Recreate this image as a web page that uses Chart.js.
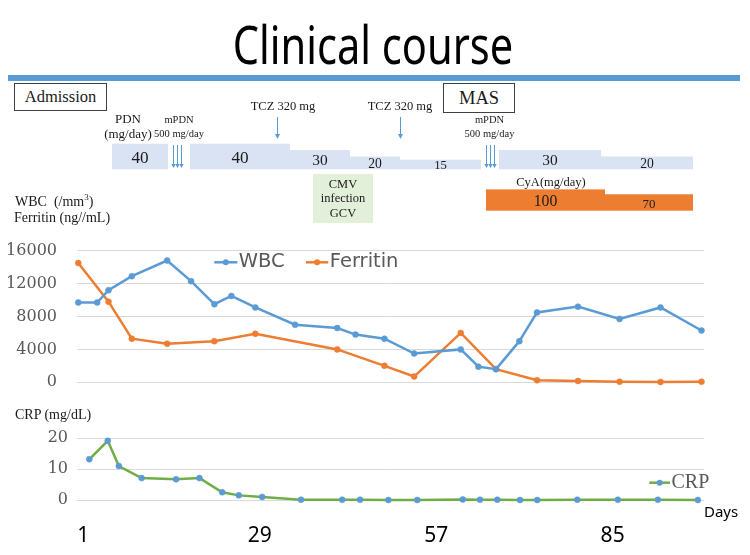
<!DOCTYPE html>
<html>
<head>
<meta charset="utf-8">
<script src="https://cdn.jsdelivr.net/npm/chart.js@4.4.1/dist/chart.umd.min.js"></script>
<style>
body{margin:0;background:#fff;}
#wrap{position:relative;width:750px;height:555px;overflow:hidden;background:#fff;}
canvas{position:absolute;left:0;}
.t{position:absolute;line-height:1;white-space:nowrap;font-family:'Liberation Serif',serif;color:#1a1a1a;z-index:2;}
.c{text-align:center;}
.box{position:absolute;box-sizing:border-box;border:1px solid #404040;display:flex;align-items:center;justify-content:center;font-family:'Liberation Serif',serif;color:#1a1a1a;background:#fff;z-index:2;}
sup{font-size:9px;line-height:0;vertical-align:6px;}
</style>
</head>
<body>
<div id="wrap">
  <div class="t c" style="left:0;width:746px;top:18.3px;font-family:'Noto Sans',sans-serif;font-size:52px;color:#000;transform:scaleX(0.8);transform-origin:373px 0;">Clinical course</div>
  <div style="position:absolute;left:8px;top:75px;width:732px;height:5.5px;background:#5b9bd5;"></div>

  <div class="box" style="left:14px;top:83px;width:93px;height:28px;font-size:16.5px;">Admission</div>
  <div class="box" style="left:443px;top:83px;width:72px;height:30px;font-size:18.5px;">MAS</div>

  <div class="t c" style="left:88px;width:80px;top:111.4px;font-size:13px;line-height:15px;">PDN<br>(mg/day)</div>
  <div class="t c" style="left:129px;width:100px;top:112.8px;font-size:10.5px;line-height:14px;">mPDN<br>500 mg/day</div>
  <div class="t c" style="left:439.5px;width:100px;top:112.8px;font-size:10.5px;line-height:14px;">mPDN<br>500 mg/day</div>
  <div class="t c" style="left:233px;width:100px;top:99.5px;font-size:12.5px;">TCZ 320 mg</div>
  <div class="t c" style="left:350px;width:100px;top:99.5px;font-size:12.5px;">TCZ 320 mg</div>
  <div class="t c" style="left:313px;width:60px;top:176.6px;font-size:12.5px;line-height:14.6px;">CMV<br>infection<br>GCV</div>
  <div class="t c" style="left:491px;width:120px;top:176.1px;font-size:12.5px;">CyA(mg/day)</div>

  <div class="t" style="left:15px;top:195px;font-size:14px;">WBC&nbsp;&nbsp;(/mm<sup>3</sup>)</div>
  <div class="t" style="left:14px;top:211.1px;font-size:14px;">Ferritin (ng//mL)</div>
  <div class="t" style="left:15px;top:408.3px;font-size:14px;">CRP (mg/dL)</div>
  <div class="t" style="left:704px;top:504.1px;font-size:15px;font-family:'Noto Sans',sans-serif;color:#000;">Days</div>

  <canvas id="upper" width="750" height="400" style="top:0;"></canvas>
  <canvas id="lower" width="750" height="155" style="top:400px;"></canvas>
</div>
<script>
// days of each sample (x)
const days = [0.2, 3.2, 5, 8.7, 14.3, 18.1, 21.8, 24.5, 28.3, 34.6, 41.3, 44.2, 48.8, 53.5, 60.9, 63.7, 66.5, 70.2, 73, 79.5, 86.1, 92.6, 99.1];
const wbc = [9700, 9700, 11200, 12900, 14800, 12300, 9500, 10500, 9100, 7000, 6600, 5800, 5300, 3500, 4000, 1900, 1600, 5000, 8500, 9200, 7700, 9100, 6300];
const ferritin = [14500, null, 9800, 5300, 4700, null, 5000, null, 5900, null, 4000, null, 2000, 700, 6000, null, 1600, null, 250, 160, 80, 40, 80];
const crp = [13.2, 19.2, 11, 7.1, 6.7, 7.1, 2.5, 1.5, 1, 0.1, 0.1, 0.1, 0, 0, 0.2, 0.1, 0.1, 0, 0, 0.1, 0.1, 0.1, 0];
const dayTicks = [1, 29, 57, 85];

// treatment timeline (days)
const pdnFrom = [5.5, 17.9, 33.8, 43.3, 51.3, 66.9, 83.1];
const pdnTo = [14.4, 33.8, 43.3, 51.3, 64.1, 83.1, 97.8];
const pdnDose = [40, 40, 30, 20, 15, 30, 20];
const cyaFrom = [64.9, 83.8];
const cyaTo = [83.8, 97.8];
const cyaDose = [100, 70];
const mpdnDays = [15.3, 15.9, 16.55, 64.9, 65.55, 66.2];
const tczDays = [31.8, 51.3];
const cmvPeriod = [37.45, 47];

const BLUE = '#5b9bd5', ORANGE = '#ed7d31', GREEN = '#70ad47', GRID = '#d9d9d9', TICK = '#595959';

function arrow(ctx, x, y1, y2, hw, hh) {
  x = Math.round(x) + 0.5;
  ctx.beginPath(); ctx.moveTo(x, y1); ctx.lineTo(x, y2 - hh); ctx.stroke();
  ctx.beginPath(); ctx.moveTo(x - hw / 2, y2 - hh); ctx.lineTo(x + hw / 2, y2 - hh); ctx.lineTo(x, y2); ctx.closePath(); ctx.fill();
}

function doseLabel(ctx, v, cx, cy, size) {
  ctx.fillStyle = '#1a1a1a';
  ctx.font = size.toFixed(1) + 'px "Liberation Serif"';
  ctx.textAlign = 'center'; ctx.textBaseline = 'middle';
  ctx.fillText(String(v), cx, cy);
}

const timeline = {
  id: 'timeline',
  afterDraw(chart) {
    const ctx = chart.ctx, sx = chart.scales.x;
    const px = d => Math.round(sx.getPixelForValue(d));
    ctx.save();
    // CMV infection period
    ctx.fillStyle = '#e2f0d9';
    ctx.fillRect(px(cmvPeriod[0]), 174, px(cmvPeriod[1]) - px(cmvPeriod[0]), 49);
    // PDN steps
    pdnDose.forEach((d, i) => {
      const l = px(pdnFrom[i]), r = px(pdnTo[i]), h = d * 0.64, b = 169.3;
      ctx.fillStyle = '#dae3f3';
      ctx.fillRect(l, b - h, r - l, h);
      doseLabel(ctx, d, (l + r) / 2, b - h / 2 + 1.5, 10 + h * 0.28);
    });
    // CyA steps
    cyaDose.forEach((d, i) => {
      const l = px(cyaFrom[i]), r = px(cyaTo[i]), h = 5 + d * 0.163, b = 210.7;
      ctx.fillStyle = ORANGE;
      ctx.fillRect(l, b - h, r - l, h);
      doseLabel(ctx, d, (l + r) / 2, b - h / 2 + 2, 4 + h * 0.55);
    });
    // arrows
    ctx.strokeStyle = BLUE; ctx.fillStyle = BLUE; ctx.lineWidth = 1;
    tczDays.forEach(d => arrow(ctx, sx.getPixelForValue(d), 117, 139, 5, 5));
    mpdnDays.forEach(d => arrow(ctx, sx.getPixelForValue(d), 145, 168, 4.4, 4));
    ctx.restore();
  }
};

const seriesKey = {
  id: 'seriesKey',
  afterDraw(chart, args, opts) {
    const ctx = chart.ctx;
    ctx.save();
    opts.items.forEach(it => {
      const ds = chart.data.datasets[it.index];
      ctx.strokeStyle = ds.borderColor; ctx.lineWidth = 2.5;
      ctx.beginPath(); ctx.moveTo(it.x, opts.y); ctx.lineTo(it.x + it.w, opts.y); ctx.stroke();
      ctx.fillStyle = ds.pointBackgroundColor;
      ctx.beginPath(); ctx.arc(it.x + it.w / 2, opts.y, 3, 0, Math.PI * 2); ctx.fill();
      ctx.fillStyle = TICK; ctx.font = opts.font; ctx.textAlign = 'left'; ctx.textBaseline = 'middle';
      ctx.fillText(ds.label, it.x + it.w + 1.5, opts.y);
    });
    ctx.restore();
  }
};

// label gap made with an invisible tick mark, so it does not add to the layout padding
const yTicks = size => ({color: TICK, font: {family: 'DejaVu Serif', size: size}, padding: 0, callback: v => String(v)});
const yGrid = gap => ({color: GRID, drawTicks: true, tickLength: gap, tickColor: 'rgba(0,0,0,0)'});

new Chart(document.getElementById('upper'), {
  type: 'line',
  data: {datasets: [
    {label: 'WBC', data: days.map((d, i) => ({x: d, y: wbc[i]})), borderColor: BLUE, pointBackgroundColor: BLUE, pointBorderColor: BLUE,
     borderWidth: 2.5, pointRadius: 3, pointBorderWidth: 0.5, tension: 0, clip: false},
    {label: 'Ferritin', data: days.map((d, i) => ({x: d, y: ferritin[i]})), borderColor: ORANGE, pointBackgroundColor: ORANGE, pointBorderColor: ORANGE,
     borderWidth: 2.5, pointRadius: 3, pointBorderWidth: 0.5, tension: 0, spanGaps: true, clip: false}
  ]},
  options: {
    responsive: false, animation: false,
    layout: {padding: {top: 250.7, right: 46, bottom: 0, left: 0}},
    plugins: {
      legend: {display: false}, tooltip: {enabled: false},
      seriesKey: {y: 262.3, font: '19.5px "DejaVu Sans"', items: [{index: 0, x: 214.3, w: 23}, {index: 1, x: 306, w: 22.3}]}
    },
    scales: {
      x: {type: 'linear', min: 0, max: 99.5, ticks: {display: false}, grid: {display: false}, border: {display: false},
          afterFit: s => { s.height = 17.7; }},
      y: {min: 0, max: 16000, ticks: {...yTicks(16), stepSize: 4000}, grid: yGrid(20), border: {display: false},
          afterFit: s => { s.width = 77; }}
    }
  },
  plugins: [timeline, seriesKey]
});

new Chart(document.getElementById('lower'), {
  type: 'line',
  data: {datasets: [
    {label: 'CRP', xAxisID: 'x2', data: days.map((d, i) => ({x: d, y: crp[i]})), borderColor: GREEN, pointBackgroundColor: BLUE, pointBorderColor: BLUE,
     borderWidth: 2.5, pointRadius: 3, pointBorderWidth: 0.5, tension: 0, clip: false}
  ]},
  options: {
    responsive: false, animation: false,
    layout: {padding: {top: 38.3, right: 46, bottom: 0, left: 0}},
    plugins: {
      legend: {display: false}, tooltip: {enabled: false},
      seriesKey: {y: 82.7, font: '20px "Liberation Serif"', items: [{index: 0, x: 649.3, w: 20.7}]}
    },
    scales: {
      x: {type: 'linear', min: 0, max: 99.5,
          afterBuildTicks: s => { s.ticks = dayTicks.map(v => ({value: v})); },
          ticks: {color: '#000', font: {family: 'Noto Sans', size: 21}, padding: 15, autoSkip: false, maxRotation: 0},
          grid: {display: false}, border: {display: false},
          afterFit: s => { s.height = 55; }},
      x2: {type: 'linear', display: false, min: -1.8, max: 100.1, afterFit: s => { s.height = 0; }},
      y: {min: 0, max: 20, ticks: {...yTicks(16), stepSize: 10}, grid: yGrid(9), border: {display: false},
          afterFit: s => { s.width = 77; }}
    }
  },
  plugins: [seriesKey]
});
</script>
</body>
</html>
